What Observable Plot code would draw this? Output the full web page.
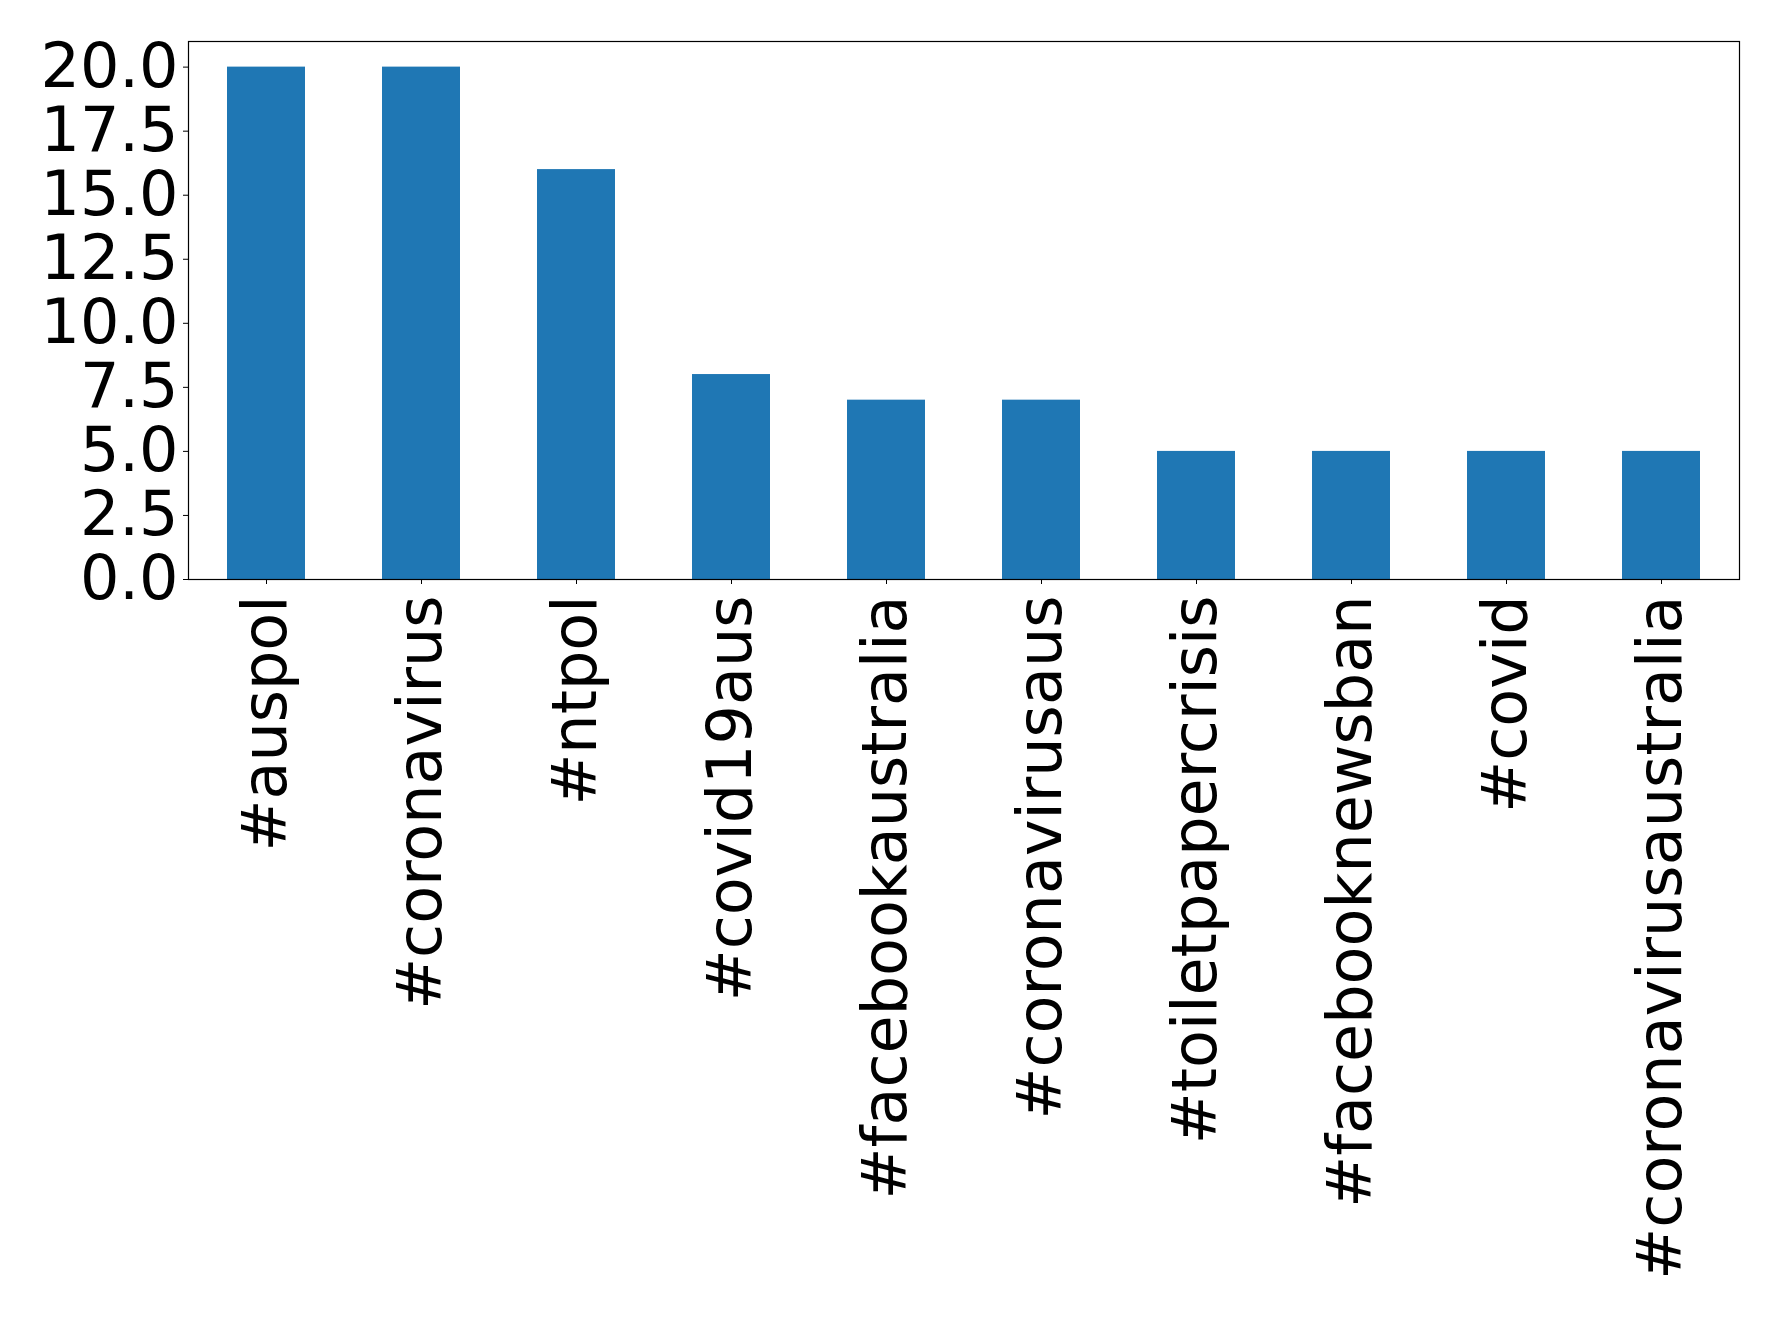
<!DOCTYPE html>
<html>
<head>
<meta charset="utf-8">
<script src="https://cdn.jsdelivr.net/npm/d3@7"></script>
<script src="https://cdn.jsdelivr.net/npm/@observablehq/plot@0.6"></script>
<style>
  html, body { margin: 0; padding: 0; background: white; }
</style>
</head>
<body>
<div id="chart"></div>
<script>
const hashtags = ["#auspol", "#coronavirus", "#ntpol", "#covid19aus", "#facebookaustralia",
  "#coronavirusaus", "#toiletpapercrisis", "#facebooknewsban", "#covid", "#coronavirusaustralia"];
const counts = [20, 20, 16, 8, 7, 7, 5, 5, 5, 5];
const yTicks = [0, 2.5, 5, 7.5, 10, 12.5, 15, 17.5, 20];

const data = hashtags.map((h, i) => ({tag: h, count: counts[i]}));

const chart = Plot.plot({
  width: 1778,
  height: 1318,
  marginLeft: 188,
  marginRight: 39,
  marginTop: 41,
  marginBottom: 739,
  style: {fontFamily: "DejaVu Sans", background: "white", color: "black"},
  x: {type: "band", domain: hashtags, paddingInner: 0.5, paddingOuter: 0.25, label: null},
  y: {domain: [0, 21], label: null},
  marks: [
    Plot.barY(data, {x: "tag", y: "count", fill: "#1f77b4"}),
    Plot.axisY({ticks: yTicks, tickFormat: d3.format(".1f"), fontSize: 62, tickSize: 5, tickPadding: 5, label: null, stroke: "black"}),
    Plot.axisX({tickRotate: -90, fontSize: 62, tickSize: 5, tickPadding: 11, label: null, stroke: "black"}),
    Plot.frame({stroke: "black", strokeWidth: 1.2})
  ]
});
document.getElementById("chart").appendChild(chart);
</script>
</body>
</html>
